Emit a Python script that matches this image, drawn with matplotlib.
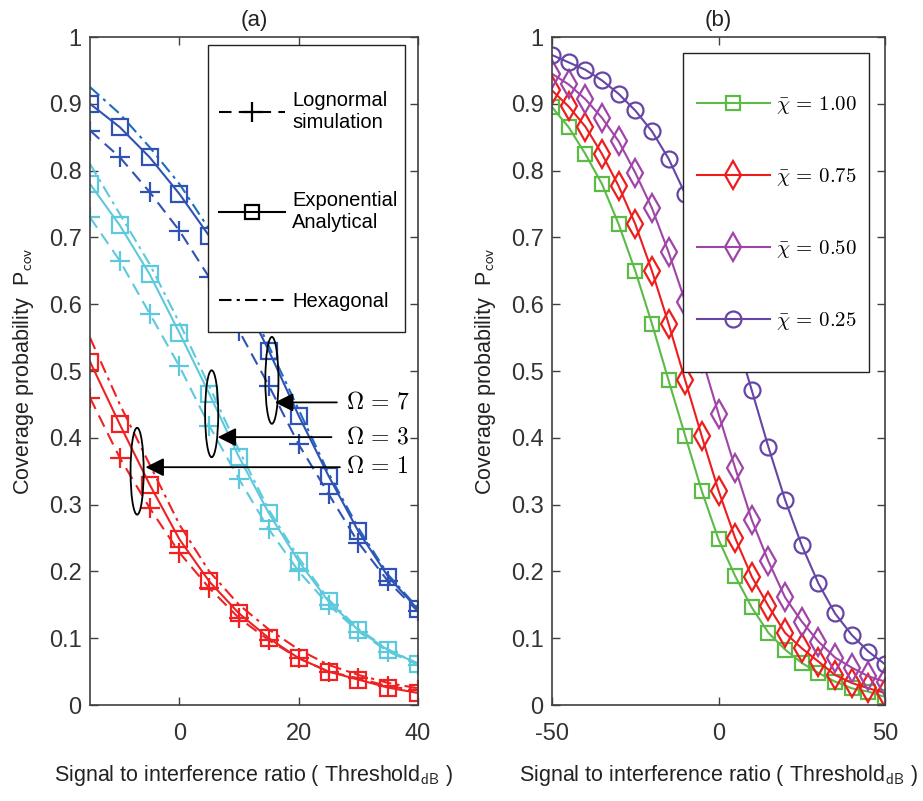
import numpy as np
import matplotlib
matplotlib.use("Agg")
import matplotlib.pyplot as plt
from matplotlib.lines import Line2D
from matplotlib.patches import Ellipse, Rectangle

plt.rcParams['font.family'] = ['Liberation Sans', 'DejaVu Sans']
plt.rcParams['mathtext.fontset'] = 'cm'
plt.rcParams['axes.unicode_minus'] = False

# ---- panel (a) data ----
thr_a = [-15, -10, -5, 0, 5, 10, 15, 20, 25, 30, 35, 40]
# Omega = 1 (red)
exp_w1 = [0.514, 0.42, 0.33, 0.248, 0.185, 0.137, 0.10, 0.07, 0.05, 0.038, 0.026, 0.018]
logn_w1 = [0.46, 0.37, 0.295, 0.228, 0.175, 0.13, 0.097, 0.07, 0.05, 0.04, 0.028, 0.022]
hex_w1 = [0.55, 0.45, 0.36, 0.27, 0.2, 0.15, 0.113, 0.083, 0.06, 0.045, 0.033, 0.025]
# Omega = 3 (cyan)
exp_w3 = [0.78, 0.718, 0.645, 0.557, 0.466, 0.371, 0.287, 0.215, 0.155, 0.112, 0.082, 0.062]
logn_w3 = [0.73, 0.665, 0.586, 0.507, 0.418, 0.338, 0.263, 0.2, 0.15, 0.11, 0.08, 0.06]
hex_w3 = [0.81, 0.735, 0.66, 0.572, 0.477, 0.381, 0.292, 0.22, 0.158, 0.114, 0.083, 0.062]
# Omega = 7 (blue)
exp_w7 = [0.9, 0.865, 0.82, 0.765, 0.702, 0.62, 0.53, 0.433, 0.343, 0.26, 0.192, 0.143]
logn_w7 = [0.86, 0.82, 0.768, 0.71, 0.64, 0.56, 0.478, 0.39, 0.316, 0.243, 0.185, 0.14]
hex_w7 = [0.925, 0.885, 0.835, 0.78, 0.712, 0.63, 0.537, 0.442, 0.347, 0.265, 0.195, 0.145]

# ---- panel (b) data ----
thr_b = list(range(-50, 55, 5))
chi_100 = [0.895, 0.865, 0.825, 0.78, 0.72, 0.65, 0.571, 0.486, 0.403, 0.32, 0.248,
           0.193, 0.146, 0.108, 0.083, 0.063, 0.048, 0.035, 0.025, 0.02, 0.012]
chi_075 = [0.92, 0.896, 0.866, 0.825, 0.777, 0.72, 0.65, 0.571, 0.486, 0.402, 0.321,
           0.25, 0.192, 0.148, 0.108, 0.085, 0.065, 0.045, 0.033, 0.025, 0.018]
chi_050 = [0.945, 0.929, 0.907, 0.879, 0.844, 0.797, 0.744, 0.678, 0.604, 0.52, 0.436,
           0.355, 0.277, 0.215, 0.161, 0.125, 0.095, 0.071, 0.056, 0.043, 0.035]
chi_025 = [0.973, 0.962, 0.951, 0.935, 0.915, 0.89, 0.859, 0.818, 0.765, 0.705, 0.635,
           0.555, 0.471, 0.386, 0.307, 0.239, 0.182, 0.137, 0.105, 0.08, 0.061]

red = '#ee2222'
cyan = '#5ec8dc'
blue = '#2f52b4'
blue_hex = '#1f6cbf'
axis_col = '#404040'
W, H = 923, 801

fig = plt.figure(figsize=(9.23, 8.01), dpi=100)
ax1 = fig.add_axes([90 / W, 1 - 705 / H, 328 / W, 668 / H])
ax2 = fig.add_axes([552 / W, 1 - 705 / H, 333 / W, 668 / H])

lw = 1.5
dash = (6, 3.5)
dashdot = (6, 2.5, 1.5, 2.5)
for e, l, h, c, hc in [(exp_w1, logn_w1, hex_w1, red, red),
                       (exp_w3, logn_w3, hex_w3, cyan, cyan),
                       (exp_w7, logn_w7, hex_w7, blue, blue_hex)]:
    ax1.plot(thr_a, h, '-.', color=hc, lw=lw, dashes=dashdot)
    ax1.plot(thr_a, l, '--', color=c, lw=lw, dashes=dash, marker='+', ms=14, mew=1.6)
    ax1.plot(thr_a, e, '-', color=c, lw=lw, marker='s', ms=11, mfc='none', mew=1.6)

# ellipses and arrows
for cx, cy in [(15.5, 0.486), (5.4, 0.436), (-7.1, 0.35)]:
    ax1.add_patch(Ellipse((cx, cy), 2.2, 0.13, fill=False, ec='black', lw=1.3, zorder=5))
for label, y, x0, x1 in [(r'$\Omega\,=\,7$', 0.453, 26.4, 16.0),
                         (r'$\Omega\,=\,3$', 0.401, 25.5, 6.4),
                         (r'$\Omega\,=\,1$', 0.356, 26.9, -5.7)]:
    ax1.annotate('', xy=(x1, y), xytext=(x0, y),
                 arrowprops=dict(arrowstyle='-|>', color='black', lw=1.3,
                                 mutation_scale=28, shrinkA=0, shrinkB=0), zorder=6)
    ax1.text(28.0, y, label, fontsize=17, va='center', ha='left', zorder=6)

# legend (a): frame drawn as a rectangle in figure pixels
fig.add_artist(Rectangle((208 / W, 1 - 332 / H), 197 / W, 287 / H, transform=fig.transFigure,
                         fc='white', ec='#222222', lw=1.0, zorder=4))
handles_a = [Line2D([], [], color='black', ls='--', dashes=(6, 3.5), marker='+', ms=14, mew=1.6, lw=lw),
             Line2D([], [], color='black', ls='-', marker='s', ms=10, mfc='none', mew=1.6, lw=lw),
             Line2D([], [], color='black', ls='-.', dashes=dashdot, lw=lw)]
leg1 = fig.legend(handles_a, ['Lognormal\nsimulation', 'Exponential\nAnalytical', 'Hexagonal'],
                  loc='center', bbox_to_anchor=(308 / W, 1 - 201 / H), frameon=False,
                  fontsize=14.5, handlelength=3.3, labelspacing=2.95, borderpad=0,
                  handletextpad=0.35)
leg1.set_zorder(5)

ax1.set_xlim(-15, 40)
ax1.set_xticks([0, 20, 40])

# ---- panel (b) ----
ax2.plot(thr_b, chi_100, '-', color='#5cbb46', lw=lw, marker='s', ms=10, mfc='none', mew=1.6,
         label=r'$\bar{\chi}\,=\,1.00$')
ax2.plot(thr_b, chi_075, '-', color='#ee1c1c', lw=lw, marker='d', ms=14, mfc='none', mew=1.6,
         label=r'$\bar{\chi}\,=\,0.75$')
ax2.plot(thr_b, chi_050, '-', color='#a044a8', lw=lw, marker='d', ms=14, mfc='none', mew=1.6,
         label=r'$\bar{\chi}\,=\,0.50$')
ax2.plot(thr_b, chi_025, '-', color='#6645a5', lw=lw, marker='o', ms=11.5, mfc='none', mew=1.6,
         label=r'$\bar{\chi}\,=\,0.25$')
fig.add_artist(Rectangle((683 / W, 1 - 372 / H), 186 / W, 319 / H, transform=fig.transFigure,
                         fc='white', ec='#222222', lw=1.0, zorder=4))
h2, l2 = ax2.get_legend_handles_labels()
leg2 = fig.legend(h2, l2, loc='center', bbox_to_anchor=(777 / W, 1 - 213 / H), frameon=False,
                  fontsize=15, handlelength=3.5, labelspacing=2.4, borderpad=0,
                  handletextpad=0.3)
leg2.set_zorder(5)
ax2.set_xlim(-50, 50)
ax2.set_xticks([-50, 0, 50])

yticks = np.round(np.arange(0, 1.01, 0.1), 1)
ylabels = ['0'] + ['%.1f' % v for v in yticks[1:-1]] + ['1']
for ax, title in [(ax1, '(a)'), (ax2, '(b)')]:
    ax.set_ylim(0, 1)
    ax.set_yticks(yticks)
    ax.set_yticklabels(ylabels)
    ax.tick_params(direction='in', top=True, right=True, length=6, width=1,
                   labelsize=17, colors=axis_col, labelcolor='#333333')
    ax.tick_params(axis='x', pad=13)
    ax.tick_params(axis='y', pad=6)
    for s in ax.spines.values():
        s.set_color(axis_col)
        s.set_linewidth(1.2)
    ax.set_title(title, fontsize=16, color='#222222', pad=8)
    ax.set_xlabel(r'Signal to interference ratio ( Threshold$_{\mathsf{dB}}$ )',
                  fontsize=15.5, color='#222222', labelpad=13)
    ax.set_ylabel(r'Coverage probability  P$_{\mathsf{cov}}$', fontsize=15.5,
                  color='#222222', labelpad=9)

fig.savefig('out.png', dpi=100)
